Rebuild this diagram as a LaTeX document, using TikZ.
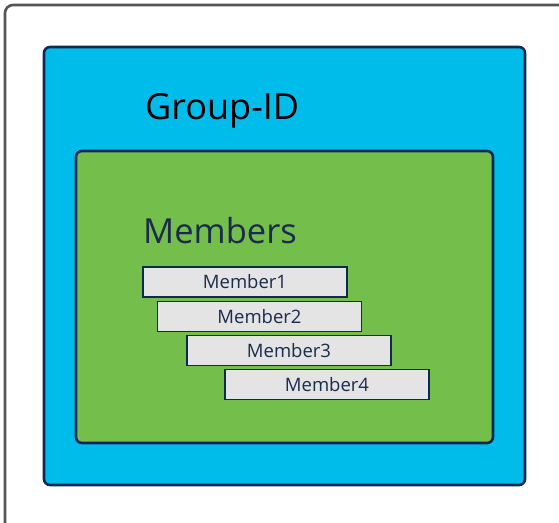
\documentclass[tikz,border=0pt]{standalone}
\usepackage{fontspec}
\setmainfont{Open Sans}
\definecolor{frame}{HTML}{555555}
\definecolor{navy}{HTML}{0F2A52}
\definecolor{groupblue}{HTML}{00BCEB}
\definecolor{membergreen}{HTML}{74BF4B}
\definecolor{memberfill}{HTML}{E4E4E4}
\definecolor{labelnavy}{HTML}{1B2B4B}
\tikzset{
  container/.style={draw=navy, line width=2.6pt, rounded corners=6pt, inner sep=0pt},
  member/.style={draw=navy, line width=1.6pt, fill=memberfill, inner sep=0pt,
    minimum width=204pt, minimum height=30pt, text=labelnavy,
    font=\fontsize{18.5}{20}\selectfont},
  heading/.style={anchor=base west, inner sep=0pt}
}
% member label, set a little left of the box centre
\newcommand{\memberlabel}[1]{#1\hspace{4pt}}
\begin{document}
\begin{tikzpicture}[x=1pt,y=-1pt]
  \useasboundingbox (0,0) rectangle (559,522);
  \clip (0,0) rectangle (559,522);
  % outer frame, running off the right and bottom edges
  \draw[frame, line width=2.6pt, rounded corners=8pt] (5,5) rectangle (600,560);
  % group container
  \node[container, fill=groupblue, minimum width=481pt, minimum height=438pt]
    (group) at (284.5,266) {};
  % members container
  \node[container, fill=membergreen, minimum width=417pt, minimum height=292pt]
    (members) at (284.5,297) {};
  \node[heading, font=\fontsize{36}{40}\selectfont, text=black]
    (grouplabel) at (145,119.5) {Group-ID};
  \node[heading, font=\fontsize{34.5}{38}\selectfont, text=labelnavy]
    (memberslabel) at (143,243) {Members};
  % member entries, stepped to the right
  \node[member] (m1) at (245,282) {\memberlabel{Member1}};
  \node[member] (m2) at (259.5,316.5) {\memberlabel{Member2}};
  \node[member] (m3) at (289,350.5) {\memberlabel{Member3}};
  \node[member] (m4) at (327,384.5) {\memberlabel{Member4}};
\end{tikzpicture}
\end{document}
